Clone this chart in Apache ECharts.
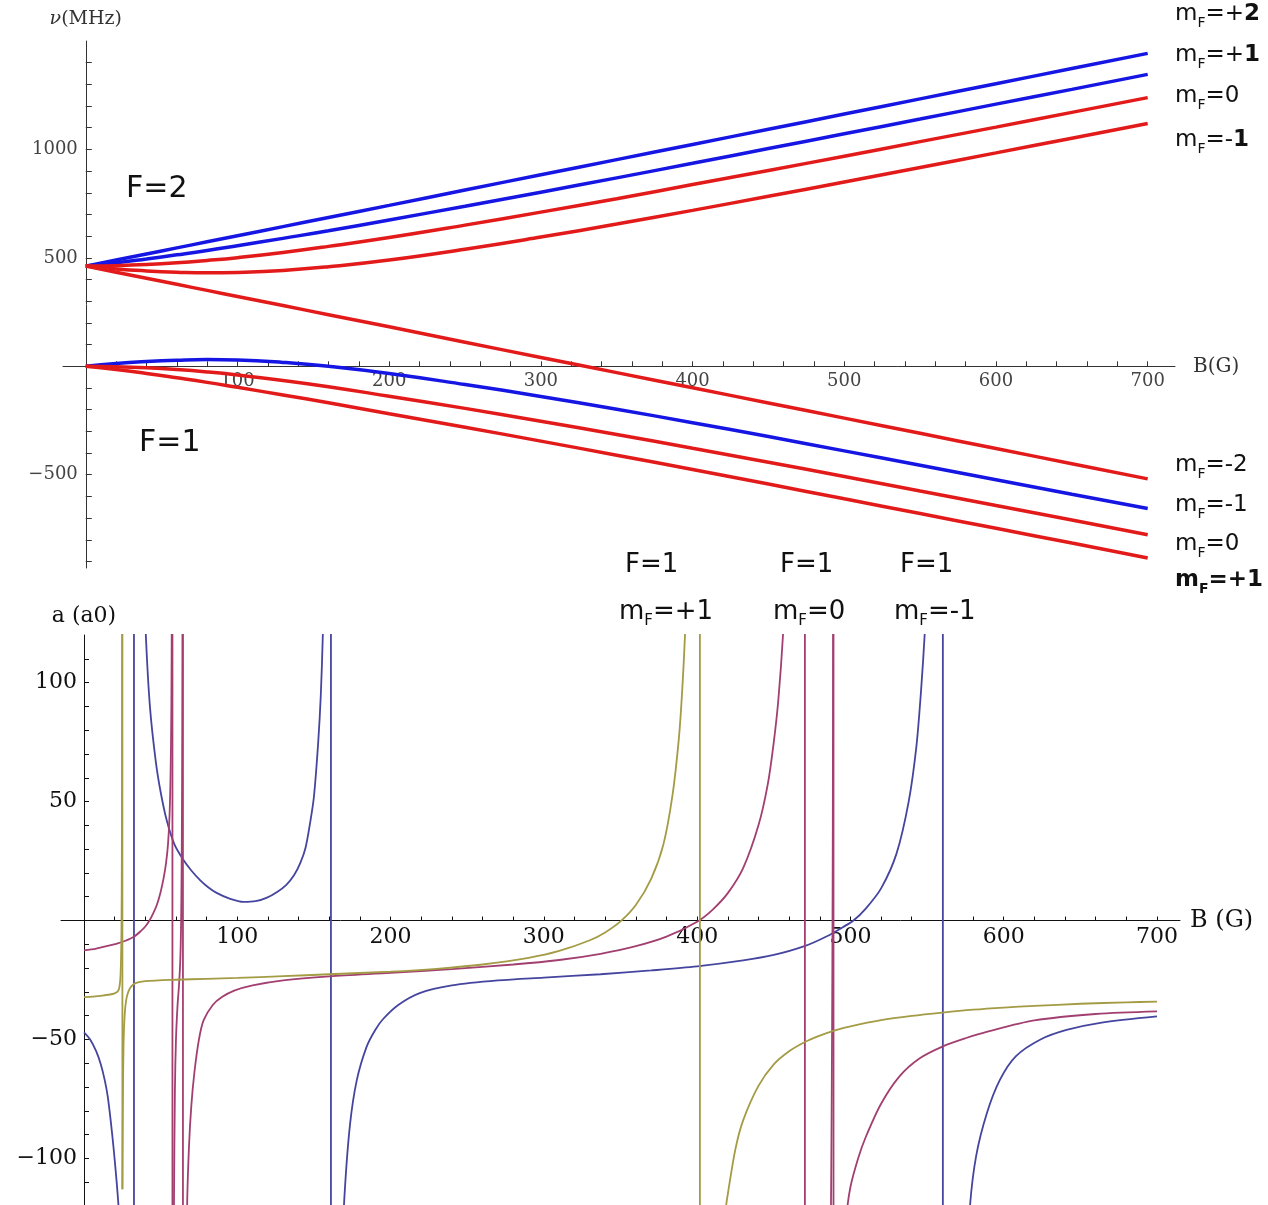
<!DOCTYPE html>
<html>
<head>
<meta charset="utf-8">
<title>Breit-Rabi levels and scattering length</title>
<script src="https://cdn.jsdelivr.net/npm/echarts@6.0.0/dist/echarts.min.js"></script>
<style>
  html, body { margin: 0; padding: 0; background: #fff; }
  #main { width: 1268px; height: 1205px; }
</style>
</head>
<body>
<div id="main"></div>
<script>
// ---- top panel: hyperfine levels (MHz) against field B (G)
var fieldG   = [0, 20, 40, 60, 80, 100, 130, 160, 200, 250, 300, 350, 400, 450, 500, 550, 600, 650, 700];
var f2Plus2  = [462, 490, 518, 546, 574, 602, 644, 686, 742, 813, 883, 953, 1023, 1093, 1163, 1233, 1303, 1373, 1443];
var f2Plus1  = [462, 477, 495, 514, 534, 556, 590, 625, 675, 738, 803, 869, 936, 1004, 1072, 1140, 1209, 1277, 1346];
var f2Zero   = [462, 464, 469, 477, 488, 501, 525, 553, 594, 651, 711, 773, 838, 903, 969, 1036, 1103, 1171, 1239];
var f2Minus1 = [462, 449, 440, 434, 431, 433, 442, 459, 490, 540, 596, 656, 719, 784, 850, 917, 984, 1052, 1120];
var f2Minus2 = [462, 434, 406, 378, 350, 322, 280, 238, 182, 111, 41, -29, -99, -169, -239, -309, -379, -449, -519];
var f1Minus1 = [0, 13, 22, 28, 31, 29, 18, 0, -33, -84, -139, -198, -260, -324, -390, -456, -523, -590, -656];
var f1Zero   = [0, -2, -7, -15, -26, -40, -65, -94, -138, -194, -253, -314, -378, -442, -508, -575, -642, -709, -777];
var f1Plus1  = [0, -15, -33, -53, -74, -97, -132, -168, -219, -281, -345, -410, -476, -543, -611, -679, -747, -815, -884];

// ---- bottom panel: scattering length a (a0) against B (G)
// each state: branches between resonances as [B, a], poles as [B, aTop, aBottom]
var blueBranches = [
  [[0,-47],[4,-50],[8,-55],[11,-60.5],[13.5,-67],[15.5,-74],[17.4,-84],[19.2,-95],[20.5,-104],[21.7,-113],[23,-125],[25,-157]],
  [[34.5,480],[36.5,235],[38.5,156],[40.2,122],[43,90],[46.8,67],[50,54],[54,42],[59,32],[64.8,25.5],[70,21],[75.7,17],
   [81,14],[86.5,11.6],[95,9.2],[104,7.8],[112,8.1],[119,9.5],[126,12],[132,15],[137,19],[141,24],[144.5,30.5],
   [147.5,41],[150,52],[152.8,75],[154.5,95],[155.8,120],[157.5,170]],
  [[165,-250],[167,-167],[168,-145],[170,-115],[173.5,-86],[178,-67],[184.4,-53],[190,-46],[195,-41.5],[205,-35.5],
   [219,-30.5],[240,-27.3],[270,-25.2],[300,-24],[337,-22.6],[370,-21],[400,-19.3],[430,-16.8],[450,-14.5],[470,-10.8],
   [485,-6.5],[495,-2.8],[502,0],[510,5],[520,13.5],[530,28],[538,50],[543,73],[546,96],[548.6,122],[551,155]],
  [[574,-165],[578,-120],[582,-99],[589,-81],[597.5,-67],[608,-57],[624,-50],[641,-46],[663,-43],[700,-40.3]]
];
var bluePoles = [[32.6, 125, -125], [161.1, 125, -125], [560.3, 125, -125]];

var magentaBranches = [
  [[0,-12.6],[8,-11.8],[16,-10.6],[22,-9.6],[27,-8.5],[32.6,-6.8],[37,-4.5],[40,-2.5],[42.5,-0.2],[45,2.8],[47.5,6.5],
   [50,12],[52,18],[53.5,24],[54.8,32],[55.8,44],[56.5,62],[57,90],[57.35,140]],
  [[58.25,-200],[58.7,-120],[59.3,-72],[60,-50],[61,-36],[62,-27],[62.8,-17],[63.3,-3],[63.7,22],[64,60],[64.2,110],[64.35,180]],
  [[66.3,-220],[67.3,-120],[68.5,-95],[70,-78],[72,-64],[75,-50],[78,-42],[84,-35.5],[90,-32.2],[98,-29.5],[110,-27.3],
   [130,-25.2],[160,-23.5],[200,-22],[240,-20.4],[280,-18.5],[310,-16.6],[337,-14],[360,-10.8],[380,-6.8],[400,-0.5],
   [410,4.5],[420,11.5],[430,22],[440,40],[446,57],[450,75],[453,93],[456,120],[459,161]],
  [[486.3,-200],[487.2,-130],[487.8,-75],[488.2,-20],[488.5,40],[488.7,130],[488.8,250]],
  [[493,-190],[495,-155],[497.5,-124],[500,-112],[505,-100],[510,-91],[520,-77],[532,-65.5],[545,-58],[560,-53],
   [575,-49.5],[590,-46.6],[620,-42],[660,-39.3],[700,-38.2]]
];
var magentaPoles = [[57.7, 125, -125], [64.55, 125, -125], [470.3, 125, -125], [488.95, 125, -125]];

var oliveBranches = [
  [[0,-32.2],[6,-32],[12,-31.6],[17,-31.1],[20,-30.6],[21.7,-30],[22.8,-28.8],[23.6,-25.5],[24.1,-18],[24.45,-4],
   [24.7,28],[24.85,90],[24.95,200]],
  [[25.05,-113],[25.4,-75],[25.8,-52],[26.5,-40],[27.5,-33.5],[29,-29.8],[31,-27.6],[34,-26.2],[40,-25.5],[60,-24.9],
   [80,-24.5],[100,-24.1],[130,-23.4],[160,-22.6],[200,-21.5],[230,-20.3],[260,-18.5],[290,-15.7],[310,-12.8],[330,-8.3],
   [340,-5],[350,-0.4],[360,6.5],[370,17.5],[378,32],[384,53],[388,76],[390,94],[392,119],[394,157],[397,270]],
  [[412,-200],[416,-145],[418.5,-122],[420,-115],[425,-96],[430,-84],[440,-69.5],[450,-60.5],[460,-55],[470,-51.2],
   [480,-48.4],[490,-46.2],[500,-44.5],[520,-41.9],[540,-40.1],[560,-38.7],[580,-37.5],[600,-36.6],[620,-35.9],
   [650,-35],[680,-34.4],[700,-34.1]]
];
var olivePoles = [[25.05, 125, -113], [401.8, 125, -125]];

// tick labels
var topXLabels = [100, 200, 300, 400, 500, 600, 700];
var topYLabels = [-500, 500, 1000];
var botXLabels = [100, 200, 300, 400, 500, 600, 700];
var botYLabels = [-100, -50, 50, 100];

function steps(from, to, step) {
  var out = [];
  for (var v = from; v <= to + 1e-9; v += step) { if (v !== 0) out.push(v); }
  return out;
}
function minus(v) { return v < 0 ? '\u2212' + Math.abs(v) : String(v); }
function pairs(ys) { return fieldG.map(function (b, i) { return [b, ys[i]]; }); }

var BLUE = '#1616e4', RED = '#e31a1a';
var C_BLUE = '#45459f', C_MAG = '#a23f70', C_OLIVE = '#a49b45';

function topLine(name, ys, color) {
  return { name: name, type: 'line', xAxisIndex: 0, yAxisIndex: 0, data: pairs(ys),
    smooth: true, showSymbol: false, clip: true, lineStyle: { width: 3.5, color: color } };
}
function botLines(name, branches, poles, color) {
  var out = [];
  branches.forEach(function (d) {
    out.push({ name: name, type: 'line', xAxisIndex: 1, yAxisIndex: 1, data: d, smooth: 0.3,
      showSymbol: false, clip: true, lineStyle: { width: 1.8, color: color } });
  });
  poles.forEach(function (p) {
    out.push({ name: name, type: 'line', xAxisIndex: 1, yAxisIndex: 1, data: [[p[0], p[1]], [p[0], p[2]]],
      showSymbol: false, clip: true, lineStyle: { width: 1.8, color: color } });
  });
  return out;
}

var serifTop = { fontFamily: 'DejaVu Serif', fontSize: 18, color: '#444' };
var serifBot = { fontFamily: 'DejaVu Serif', fontSize: 22, color: '#111' };

// label text with subscript F
var sans = 'DejaVu Sans';
function mfRich(size, subSize, pad) {
  return {
    m: { fontFamily: sans, fontSize: size, fill: '#111', lineHeight: size + 6 },
    s: { fontFamily: sans, fontSize: subSize, fill: '#111', lineHeight: subSize, padding: [pad, 0, 0, 0] },
    b: { fontFamily: sans, fontSize: size, fill: '#111', fontWeight: 'bold', lineHeight: size + 6 },
    sb: { fontFamily: sans, fontSize: subSize, fill: '#111', fontWeight: 'bold', lineHeight: subSize, padding: [pad, 0, 0, 0] }
  };
}
function note(x, y, text, rich) {
  return { type: 'text', x: x, y: y, z: 100,
    style: { text: text, rich: rich, align: 'left', verticalAlign: 'middle' } };
}
var rightRich = mfRich(23, 14, 18);
var midRich = mfRich(26, 15, 19);
var bigF = { m: { fontFamily: sans, fontSize: 30, fill: '#111' } };
var midF = { m: { fontFamily: sans, fontSize: 26, fill: '#111' } };

var series = [
  topLine('F=2 mF=+2', f2Plus2, BLUE),
  topLine('F=2 mF=+1', f2Plus1, BLUE),
  topLine('F=2 mF=0', f2Zero, RED),
  topLine('F=2 mF=-1', f2Minus1, RED),
  topLine('F=2 mF=-2', f2Minus2, RED),
  topLine('F=1 mF=-1', f1Minus1, BLUE),
  topLine('F=1 mF=0', f1Zero, RED),
  topLine('F=1 mF=+1', f1Plus1, RED)
].concat(
  botLines('a F=1 mF=-1', blueBranches, bluePoles, C_BLUE),
  botLines('a F=1 mF=0', magentaBranches, magentaPoles, C_MAG),
  botLines('a F=1 mF=+1', oliveBranches, olivePoles, C_OLIVE)
);

var chart = echarts.init(document.getElementById('main'), null, { renderer: 'canvas' });
chart.setOption({
  animation: false,
  backgroundColor: '#fff',
  grid: [
    { left: 63, top: 41, width: 1112, height: 527, outerBoundsMode: 'none' },
    { left: 61, top: 635, width: 1119, height: 571, outerBoundsMode: 'none' }
  ],
  xAxis: [
    { type: 'value', gridIndex: 0, min: -15, max: 718, splitLine: { show: false },
      position: 'bottom', offset: -201.7,
      name: 'B(G)', nameLocation: 'end', nameGap: 18,
      nameTextStyle: { fontFamily: 'DejaVu Serif', fontSize: 20, color: '#333' },
      axisLine: { onZero: false, lineStyle: { color: '#333', width: 1 } },
      axisTick: { inside: true, length: 5, customValues: steps(20, 700, 20), lineStyle: { color: '#333' } },
      axisLabel: Object.assign({ customValues: topXLabels, margin: 6, formatter: minus }, serifTop) },
    { type: 'value', gridIndex: 1, min: -15, max: 715, splitLine: { show: false },
      position: 'bottom', offset: -285.5,
      name: 'B (G)', nameLocation: 'end', nameGap: 10,
      nameTextStyle: { fontFamily: 'DejaVu Serif', fontSize: 24, color: '#111' },
      axisLine: { onZero: false, lineStyle: { color: '#111', width: 1 } },
      axisTick: { inside: true, length: 4, customValues: steps(20, 700, 20), lineStyle: { color: '#111' } },
      axisLabel: Object.assign({ customValues: botXLabels, margin: 6, formatter: minus }, serifBot) }
  ],
  yAxis: [
    { type: 'value', gridIndex: 0, min: -930, max: 1500, splitLine: { show: false },
      position: 'left', offset: -22.8,
      name: '{i|\u03bd}(MHz)', nameLocation: 'end', nameGap: 12,
      nameTextStyle: { fontFamily: 'DejaVu Serif', fontSize: 19, color: '#333',
        rich: { i: { fontFamily: 'DejaVu Serif', fontSize: 19, fontStyle: 'italic', color: '#333' } } },
      axisLine: { onZero: false, lineStyle: { color: '#333', width: 1 } },
      axisTick: { inside: true, length: 6, customValues: steps(-900, 1400, 100), lineStyle: { color: '#333' } },
      axisLabel: Object.assign({ customValues: topYLabels, margin: 8, formatter: minus }, serifTop) },
    { type: 'value', gridIndex: 1, min: -120, max: 120, splitLine: { show: false },
      position: 'left', offset: -23,
      name: 'a (a0)', nameLocation: 'end', nameGap: 8,
      nameTextStyle: { fontFamily: 'DejaVu Serif', fontSize: 22, color: '#111' },
      axisLine: { onZero: false, lineStyle: { color: '#111', width: 1 } },
      axisTick: { inside: true, length: 5, customValues: steps(-110, 110, 10), lineStyle: { color: '#111' } },
      axisLabel: Object.assign({ customValues: botYLabels, margin: 7, formatter: minus }, serifBot) }
  ],
  series: series,
  graphic: [
    note(1175, 14, '{m|m}{s|F}{m|=+}{b|2}', rightRich),
    note(1175, 55, '{m|m}{s|F}{m|=+}{b|1}', rightRich),
    note(1175, 96, '{m|m}{s|F}{m|=0}', rightRich),
    note(1175, 140, '{m|m}{s|F}{m|=-}{b|1}', rightRich),
    note(1175, 465, '{m|m}{s|F}{m|=-2}', rightRich),
    note(1175, 505, '{m|m}{s|F}{m|=-1}', rightRich),
    note(1175, 544, '{m|m}{s|F}{m|=0}', rightRich),
    note(1175, 580, '{b|m}{sb|F}{b|=+1}', rightRich),
    note(126, 189, '{m|F=2}', bigF),
    note(139, 443, '{m|F=1}', bigF),
    note(625, 565, '{m|F=1}', midF),
    note(780, 565, '{m|F=1}', midF),
    note(900, 565, '{m|F=1}', midF),
    note(619, 612, '{m|m}{s|F}{m|=+1}', midRich),
    note(773, 612, '{m|m}{s|F}{m|=0}', midRich),
    note(894, 612, '{m|m}{s|F}{m|=-1}', midRich)
  ]
});
</script>
</body>
</html>
